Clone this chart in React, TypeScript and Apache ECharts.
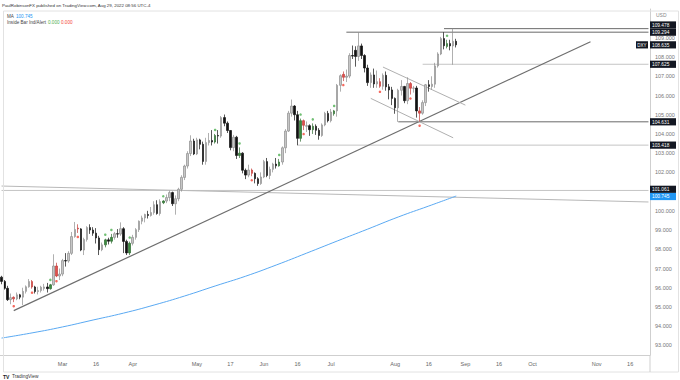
import React, { useEffect, useRef } from 'react';
import * as echarts from 'echarts';

const FONT = '"Liberation Sans", Arial, sans-serif';

// Trading-day categories (weekdays) from 1 Feb 2022 to late Nov 2022
const categories: string[] = (() => {
  const out: string[] = [];
  const d = new Date(Date.UTC(2022, 1, 1));
  while (out.length < 213) {
    const wd = d.getUTCDay();
    if (wd !== 0 && wd !== 6) out.push(d.toISOString().slice(0, 10));
    d.setUTCDate(d.getUTCDate() + 1);
  }
  return out;
})();

const xTickLabels: Record<string, string> = {
  '2022-03-01': 'Mar', '2022-03-16': '16', '2022-04-01': 'Apr', '2022-05-02': 'May',
  '2022-05-17': '17', '2022-06-01': 'Jun', '2022-06-16': '16', '2022-07-01': 'Jul',
  '2022-08-01': 'Aug', '2022-08-16': '16', '2022-09-01': 'Sep', '2022-09-16': '16',
  '2022-10-03': 'Oct', '2022-11-01': 'Nov', '2022-11-16': '16',
};

const open = [
  96.55, 96.33, 95.97, 95.38, 95.50, 95.42, 95.63, 95.51, 95.81, 96.05,
  96.32, 96.04, 95.80, 95.85, 95.96, 96.04, 95.95, 96.15, 97.13, 96.61,
  96.71, 97.41, 97.39, 97.79, 98.66, 99.10, 99.06, 97.96, 98.51, 99.13,
  99.00, 98.84, 98.59, 97.98, 98.23, 98.49, 98.42, 98.62, 98.81, 98.79,
  99.07, 98.41, 97.81, 98.31, 98.62, 99.02, 99.46, 99.63, 99.81, 99.76,
  99.91, 100.32, 99.86, 100.42, 100.51, 100.69, 100.95, 100.37, 100.63, 101.12,
  101.74, 102.33, 102.98, 103.63, 102.96, 103.69, 103.46, 102.57, 103.55, 103.66,
  103.58, 103.92, 103.89, 104.85, 104.56, 104.18, 103.29, 103.83, 102.88, 103.00,
  102.11, 101.86, 102.12, 101.95, 101.67, 101.42, 101.76, 102.56, 101.84, 102.16,
  102.43, 102.34, 102.54, 103.28, 104.15, 105.08, 105.45, 105.00, 103.77, 104.69,
  104.40, 104.43, 104.22, 104.40, 104.19, 103.92, 104.47, 105.07, 104.69, 105.05,
  105.20, 106.53, 107.10, 106.95, 107.01, 108.08, 108.35, 108.03, 108.58, 108.08,
  107.43, 106.67, 107.07, 106.60, 106.72, 106.48, 107.05, 106.45, 106.29, 105.85,
  105.36, 106.27, 106.47, 105.73, 106.62, 106.38, 106.39, 105.20, 105.08, 105.63,
  106.56, 106.47, 106.59, 107.54, 108.16, 108.96, 108.55, 108.70, 108.58, 108.82,
];
const high = [
  96.62, 96.40, 96.10, 95.70, 95.55, 95.75, 95.68, 96.00, 96.12, 96.45,
  96.40, 96.10, 96.05, 96.10, 96.20, 96.25, 96.20, 97.74, 97.30, 97.00,
  97.50, 97.80, 97.90, 98.90, 99.42, 99.30, 99.10, 98.60, 99.20, 99.30,
  99.15, 99.10, 98.70, 98.35, 98.55, 98.60, 98.80, 98.90, 99.05, 99.40,
  99.15, 98.50, 98.40, 98.75, 99.10, 99.50, 99.75, 99.85, 100.00, 100.20,
  100.50, 100.55, 100.60, 100.55, 100.85, 101.05, 101.00, 100.80, 101.20, 101.85,
  102.40, 103.10, 103.93, 103.75, 103.80, 103.75, 103.60, 103.80, 104.05, 104.20,
  104.00, 104.20, 104.93, 105.01, 104.65, 104.20, 103.95, 103.90, 103.30, 103.05,
  102.20, 102.40, 102.20, 102.00, 101.75, 102.00, 102.65, 102.75, 102.30, 102.50,
  102.75, 102.70, 103.35, 104.25, 105.20, 105.79, 105.50, 105.20, 104.80, 104.75,
  104.65, 104.50, 104.55, 104.50, 104.30, 104.55, 105.15, 105.20, 105.30, 105.25,
  106.60, 107.10, 107.25, 107.35, 108.20, 108.60, 108.56, 109.29, 108.70, 108.15,
  107.60, 107.20, 107.40, 107.30, 106.90, 107.15, 107.25, 106.60, 106.45, 105.90,
  106.35, 106.80, 106.50, 106.95, 106.70, 106.50, 106.50, 105.40, 105.75, 106.60,
  106.80, 107.00, 107.70, 108.25, 109.05, 109.29, 108.90, 108.90, 109.48, 108.95,
];
const low = [
  96.18, 95.90, 95.31, 95.14, 95.25, 95.35, 95.40, 95.10, 95.70, 96.00,
  95.95, 95.70, 95.65, 95.75, 95.85, 95.75, 95.90, 96.10, 96.55, 96.40,
  96.60, 97.10, 97.30, 97.70, 98.60, 98.85, 97.90, 97.70, 98.40, 98.80,
  98.70, 98.30, 97.70, 97.90, 98.10, 98.25, 98.30, 98.50, 98.60, 98.70,
  97.80, 97.70, 97.70, 98.20, 98.50, 98.90, 99.30, 99.40, 99.60, 99.70,
  99.80, 99.80, 99.75, 100.35, 100.40, 100.50, 100.25, 99.80, 100.50, 101.00,
  101.60, 102.20, 102.85, 102.90, 102.90, 103.20, 102.40, 102.40, 103.40, 103.40,
  103.50, 103.50, 103.80, 104.40, 104.05, 103.15, 103.10, 102.70, 102.75, 101.95,
  101.65, 101.75, 101.80, 101.43, 101.30, 101.35, 101.70, 101.75, 101.65, 102.00,
  102.20, 102.30, 102.40, 103.00, 104.10, 104.90, 104.70, 103.41, 103.60, 104.20,
  104.10, 103.90, 104.00, 103.95, 103.70, 103.85, 104.40, 104.60, 104.60, 104.95,
  104.90, 106.20, 106.75, 106.70, 106.90, 107.90, 107.50, 107.80, 107.90, 107.20,
  106.50, 106.40, 106.40, 106.40, 106.40, 106.30, 106.25, 105.80, 105.50, 105.05,
  104.63, 106.00, 105.60, 105.55, 106.05, 106.15, 104.85, 104.64, 105.00, 105.45,
  106.20, 106.30, 106.40, 107.45, 108.10, 108.40, 108.45, 108.35, 107.60, 108.50,
];
const close = [
  96.33, 95.97, 95.38, 95.48, 95.42, 95.63, 95.51, 95.81, 96.05, 96.32,
  96.04, 95.80, 95.85, 96.03, 96.04, 95.95, 96.15, 97.13, 96.61, 96.71,
  97.41, 97.39, 97.79, 98.66, 99.03, 99.06, 97.96, 98.51, 99.13, 99.00,
  98.84, 98.59, 97.98, 98.23, 98.49, 98.42, 98.62, 98.81, 98.79, 99.07,
  98.41, 97.81, 98.31, 98.62, 99.02, 99.46, 99.63, 99.81, 99.76, 99.91,
  100.32, 99.86, 100.48, 100.51, 100.69, 100.95, 100.37, 100.63, 101.12, 101.74,
  102.33, 102.98, 103.63, 102.96, 103.69, 103.46, 102.57, 103.55, 103.66, 103.58,
  103.92, 103.89, 104.85, 104.56, 104.18, 103.29, 103.83, 102.88, 103.00, 102.11,
  101.86, 102.12, 101.95, 101.67, 101.42, 101.76, 102.56, 101.84, 102.16, 102.43,
  102.34, 102.54, 103.28, 104.15, 105.08, 105.45, 105.00, 103.77, 104.69, 104.45,
  104.43, 104.22, 104.40, 104.19, 103.92, 104.47, 105.07, 104.69, 105.14, 105.20,
  106.53, 107.03, 106.95, 107.01, 108.08, 108.05, 108.03, 108.58, 108.08, 107.43,
  106.67, 107.07, 106.60, 106.72, 106.48, 107.05, 106.45, 106.29, 105.85, 105.36,
  106.27, 106.47, 105.73, 106.62, 106.38, 106.39, 105.20, 105.08, 105.63, 106.56,
  106.47, 106.59, 107.54, 108.16, 108.96, 108.59, 108.70, 108.58, 108.82, 108.635,
];

// Inside-bar indicator marks (indices of trading days)
const insideUp = [16, 34, 36, 42, 53, 70, 78, 91, 98, 102, 109, 146];
const insideDown = [4, 10, 18, 25, 82, 99, 112, 124, 134, 137];

// Moving average (read at sample days)
const maDays = [0, 10, 20, 30, 40, 50, 60, 70, 80, 90, 100, 110, 120, 130, 140, 149];
const maValues = [93.38, 93.65, 93.96, 94.32, 94.68, 95.1, 95.57, 96.09, 96.6, 97.18, 97.8, 98.43, 99.05, 99.68, 100.25, 100.77];

// Drawn horizontal levels
const levelPrices = [109.478, 109.294, 107.625, 104.631, 103.418, 101.061];
const levelFrom = [145, 113, 138, 130, 97, 0];
const levelDark = [true, true, false, true, false, false];
const lastDay = 212;

// Trend / channel lines: [[day, price], [day, price]]
const trendLine = [[4, 94.81], [193, 108.8]];
const channelUpper = [[125, 107.48], [152, 105.5]];
const channelLower = [[121, 105.85], [148, 103.8]];
const slopedLine = [[0, 101.29], [212, 100.46]];

// Axis tick labels hidden behind price tags (as in the reference)
const hiddenTicks = [110, 101];

// Right-axis price labels
const priceTags = [109.478, 109.294, 108.635, 107.625, 104.631, 103.418, 101.061, 100.745];
const priceTagColors = ['#131722', '#131722', '#131722', '#131722', '#131722', '#131722', '#131722', '#2196f3'];

export default function App() {
  const ref = useRef<HTMLDivElement>(null);
  useEffect(() => {
    document.body.style.margin = '0';
    const chart = echarts.init(ref.current!, null, { renderer: 'svg' });

    const candleData = open.map((o, i) => {
      const v = [o, close[i], low[i], high[i]];
      if (insideUp.includes(i)) {
        return { value: v, itemStyle: { color: '#3d8b40', color0: '#3d8b40', borderColor: '#2e6b31', borderColor0: '#2e6b31' } };
      }
      if (insideDown.includes(i)) {
        return { value: v, itemStyle: { color: '#e0524f', color0: '#e0524f', borderColor: '#c43c3a', borderColor0: '#c43c3a' } };
      }
      return v;
    });

    const lineSeries = (data: number[][], color: string, width = 1) => ({
      type: 'line',
      data,
      showSymbol: false,
      symbol: 'none',
      silent: true,
      z: 1,
      lineStyle: { color, width },
    });

    const series: any[] = [];
    levelPrices.forEach((p, i) => {
      series.push(lineSeries([[levelFrom[i], p], [lastDay, p]], levelDark[i] ? '#6a6a6a' : '#c4c4c4', 1));
    });
    series.push(lineSeries(slopedLine, '#b8b8b8', 1));
    series.push(lineSeries(trendLine, '#6e6e6e', 1.2));
    series.push(lineSeries(channelUpper, '#b0b0b0', 1));
    series.push(lineSeries(channelLower, '#b0b0b0', 1));
    series.push({
      type: 'line',
      data: maDays.map((d, i) => [d, maValues[i]]),
      smooth: true,
      showSymbol: false,
      symbol: 'none',
      silent: true,
      z: 2,
      lineStyle: { color: '#5aa9f2', width: 1 },
    });
    series.push({
      type: 'candlestick',
      data: candleData,
      barWidth: 2,
      z: 3,
      silent: true,
      itemStyle: { color: '#c6c6c6', color0: '#111111', borderColor: '#8e8e8e', borderColor0: '#111111', borderWidth: 0.7 },
    });
    series.push({
      type: 'scatter',
      data: insideUp.map((i) => [i, high[i]]),
      symbolSize: 2.5,
      symbolOffset: [0, -4],
      silent: true,
      z: 4,
      itemStyle: { color: '#4caf50' },
    });
    series.push({
      type: 'scatter',
      data: insideDown.map((i) => [i, low[i]]),
      symbolSize: 2.5,
      symbolOffset: [0, 4],
      silent: true,
      z: 4,
      itemStyle: { color: '#f44336' },
    });

    chart.setOption({
      animation: false,
      backgroundColor: '#ffffff',
      grid: { left: 0, right: 30, top: 9, bottom: 25, containLabel: false },
      xAxis: {
        type: 'category',
        data: categories,
        boundaryGap: true,
        axisLine: { show: true, lineStyle: { color: '#cfcfcf', width: 1 } },
        axisTick: { show: false },
        splitLine: { show: false },
        axisLabel: {
          interval: (_i: number, v: string) => !!xTickLabels[v],
          formatter: (v: string) => xTickLabels[v] || '',
          color: '#666',
          fontSize: 5.5,
          fontFamily: FONT,
          margin: 6,
        },
      },
      yAxis: {
        type: 'value',
        position: 'right',
        min: 92.5,
        max: 110.5,
        interval: 0.5,
        axisLine: { show: true, lineStyle: { color: '#cfcfcf', width: 1 } },
        axisTick: { show: false },
        splitLine: { show: false },
        axisLabel: {
          formatter: (v: number) => (Number.isInteger(v) && !hiddenTicks.includes(v) ? v.toFixed(3) : ''),
          color: '#777',
          fontSize: 5.5,
          fontFamily: FONT,
          margin: 5,
        },
      },
      series,
    });

    // Price tags on the right axis, placed through the axis scale
    const h = 7.2;
    const ys = priceTags.map((p) => chart.convertToPixel({ yAxisIndex: 0 }, p) as number);
    for (let i = ys.length - 2; i >= 0; i--) {
      if (ys[i] > ys[i + 1] - h) ys[i] = ys[i + 1] - h;
    }
    const txt = (text: string, x: number, y: number, fill: string, size = 5, align = 'left', weight = 'normal') => ({
      type: 'text',
      z: 101,
      silent: true,
      style: {
        text, x, y, fill,
        font: `${weight} ${size}px ${FONT}`,
        textAlign: align, align,
        textVerticalAlign: 'middle', verticalAlign: 'middle',
      },
    });
    const elements: any[] = [];
    elements.push({ type: 'rect', z: 90, silent: true, shape: { x: 3.5, y: 11, width: 675, height: 361 }, style: { fill: 'none', stroke: '#e2e2e2', lineWidth: 1 } });
    elements.push({ type: 'line', z: 90, silent: true, shape: { x1: 650, y1: 355, x2: 650, y2: 372 }, style: { stroke: '#cfcfcf', lineWidth: 1 } });
    priceTags.forEach((p, i) => {
      elements.push({ type: 'rect', z: 100, silent: true, shape: { x: 650, y: ys[i] - h / 2, width: 26, height: h }, style: { fill: priceTagColors[i] } });
      elements.push(txt(p.toFixed(3), 652, ys[i] + 0.3, '#ffffff', 4.8));
      if (p === 108.635) {
        elements.push({ type: 'rect', z: 100, silent: true, shape: { x: 636, y: ys[i] - h / 2, width: 12, height: h }, style: { fill: '#131722' } });
        elements.push(txt('DXY', 642, ys[i] + 0.3, '#ffffff', 4.5, 'center'));
      }
    });
    elements.push(txt('USD', 656, 15, '#888', 5));
    elements.push(txt('PaulRobinsonFX published on TradingView.com, Aug 29, 2022 08:56 UTC-4', 2, 5, '#333', 4.4));
    elements.push(txt('MA', 7, 16, '#444', 4.6));
    elements.push(txt('100.745', 16, 16, '#2196f3', 4.6));
    elements.push(txt('Inside Bar Ind/Alert', 7, 22, '#444', 4.6));
    elements.push(txt('0.000', 48, 22, '#4caf50', 4.6));
    elements.push(txt('0.000', 61, 22, '#f44336', 4.6));
    elements.push(txt('TV', 3, 376.5, '#131722', 5, 'left', 'bold'));
    elements.push(txt('TradingView', 12, 376.5, '#333', 4.8));

    chart.setOption({ graphic: { elements } });

    return () => chart.dispose();
  }, []);
  return <div ref={ref} style={{ position: 'absolute', left: 0, top: 0, width: 680, height: 380, background: '#fff' }} />;
}
